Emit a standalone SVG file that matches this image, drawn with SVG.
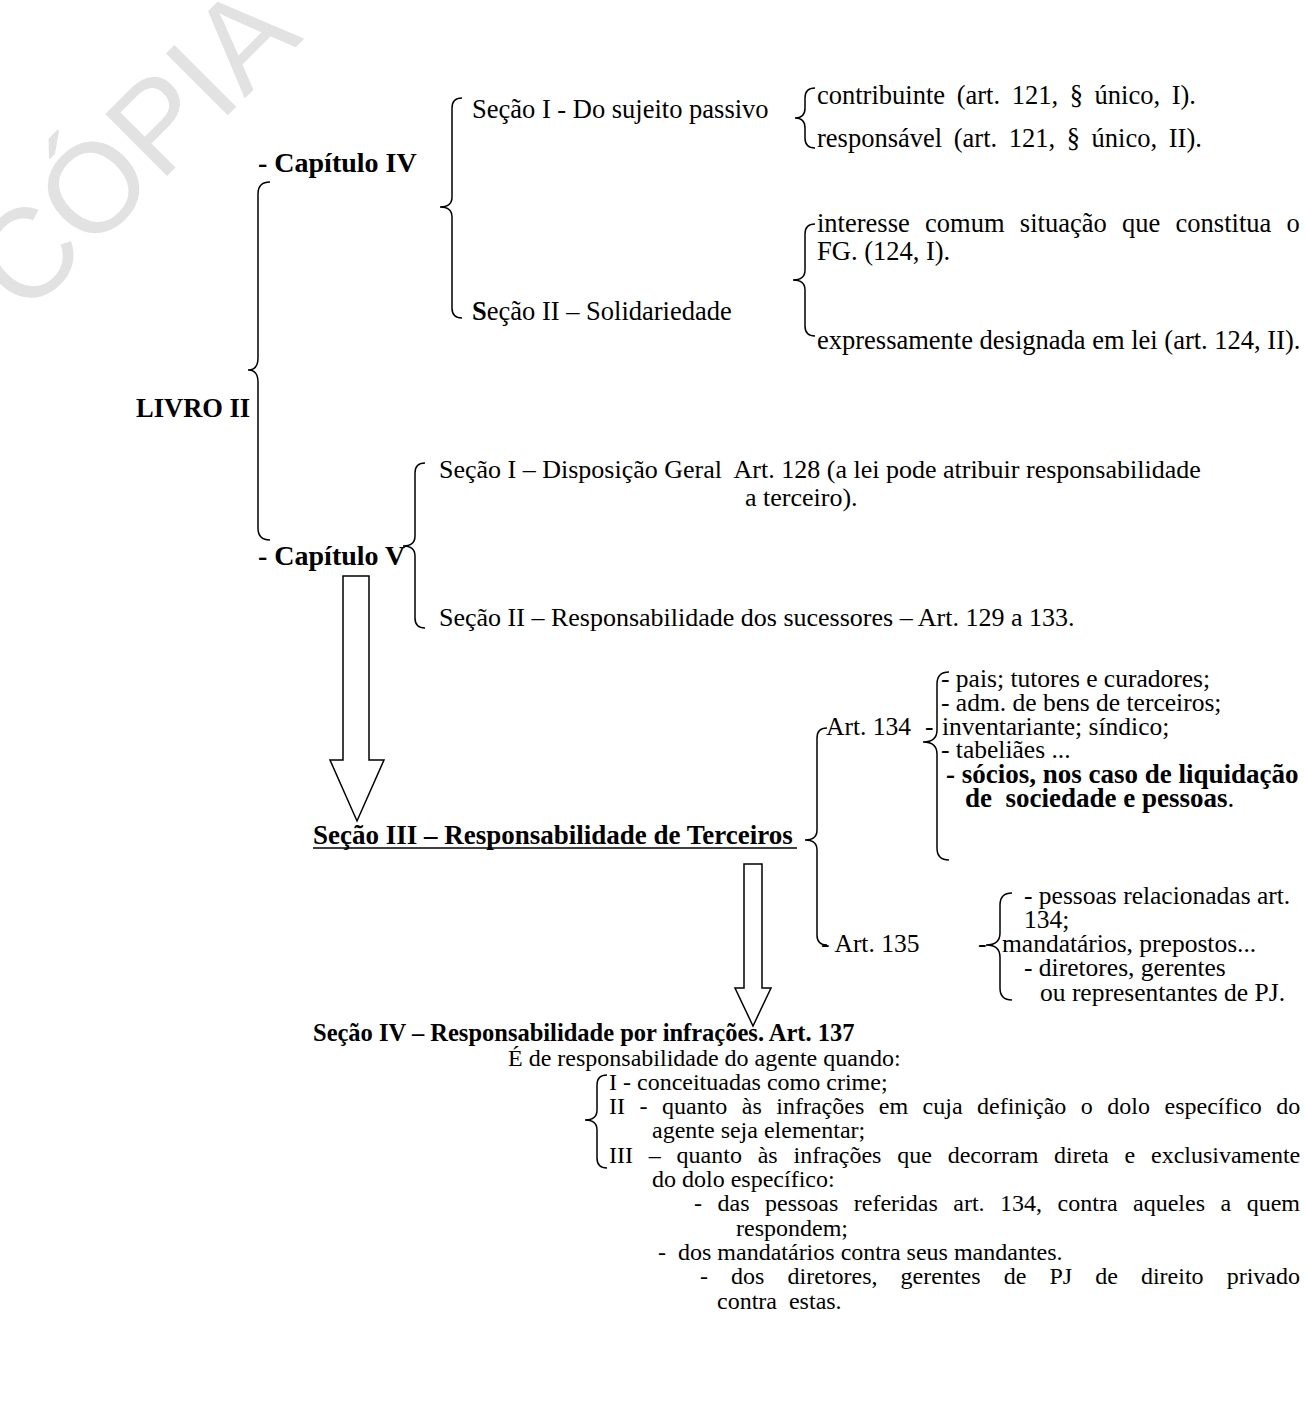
<svg xmlns="http://www.w3.org/2000/svg" width="1307" height="1424" viewBox="0 0 1307 1424">
<style>
.t{font-family:"Liberation Serif","Times New Roman",serif;font-size:26.5px;fill:#000}
.m{font-size:25.5px}
.s{font-size:24px}
.b{font-weight:bold}
.n{font-weight:normal}
.br{fill:none;stroke:#000;stroke-width:1.5}
.ar{fill:#fff;stroke:#000;stroke-width:1.5}
.wm{font-family:"Liberation Sans",Arial,sans-serif;font-size:127px;fill:#e2e2e2}
</style>
<rect width="1307" height="1424" fill="#fff"/>
<g id="watermark"><text class="wm" transform="translate(25,318) rotate(-45)">CÓPIA</text></g>

<g id="connectors">
<path class="br" d="M270,182 Q258,182 258,194 V358 Q258,370 248,370 Q258,370 258,382 V528 Q258,540 270,540"/>
<path class="br" d="M462,98 Q452,98 452,108 V197 Q452,207 440,207 Q452,207 452,217 V308 Q452,318 462,318"/>
<path class="br" d="M815,88 Q805,88 805,98 V108 Q805,118 795,118 Q805,118 805,128 V138 Q805,148 815,148"/>
<path class="br" d="M815,224 Q805,224 805,234 V270 Q805,280 793,280 Q805,280 805,290 V326 Q805,336 815,336"/>
<path class="br" d="M425,463 Q415,463 415,473 V536 Q415,546 403,546 Q415,546 415,556 V618 Q415,628 425,628"/>
<path class="br" d="M827,728 Q817,728 817,738 V830 Q817,840 805,840 Q817,840 817,850 V935 Q817,945 827,945"/>
<path class="br" d="M949,672 Q937,672 937,684 V730 Q937,742 923,742 Q937,742 937,754 V848 Q937,860 949,860"/>
<path class="br" d="M1012,893 Q1000,893 1000,905 V933 Q1000,945 986,945 Q1000,945 1000,957 V988 Q1000,1000 1012,1000"/>
<path class="br" d="M607,1075 Q597,1075 597,1085 V1110 Q597,1120 585,1120 Q597,1120 597,1130 V1158 Q597,1168 607,1168"/>
<polygon class="ar" points="343,576 369,576 369,760 384,760 357,821 330,760 343,760"/>
<polygon class="ar" points="744,864 762,864 762,988 771,988 753,1026 735,988 744,988"/>
<line x1="313" y1="848" x2="797" y2="848" stroke="#000" stroke-width="1.5"/>
</g>

<g id="livro"><text class="t b" x="136" y="417">LIVRO II</text></g>
<g id="cap4"><text class="t b" x="258" y="172" style="font-size:28px">- Capítulo IV</text></g>
<g id="cap5"><text class="t b" x="258" y="565" style="font-size:28px">- Capítulo V</text></g>
<g id="s1"><text class="t" x="472" y="118">Seção I - Do sujeito passivo</text></g>
<g id="s2"><text class="t" x="472" y="320"><tspan class="b">S</tspan>eção II – Solidariedade</text></g>
<g id="contrib"><text class="t" x="817" y="104" word-spacing="5">contribuinte (art. 121, § único, I).</text></g>
<g id="resp"><text class="t" x="817" y="147" word-spacing="5">responsável (art. 121, § único, II).</text></g>
<g id="interesse">
<text class="t" x="817" y="232" word-spacing="8.7">interesse comum situação que constitua o</text>
<text class="t" x="817" y="260">FG. (124, I).</text>
</g>
<g id="expressa"><text class="t" x="817" y="349">expressamente designada em lei (art. 124, II).</text></g>
<g id="s1cap5">
<text class="t" x="439" y="478" style="font-size:26px" xml:space="preserve">Seção I – Disposição Geral  Art. 128 (a lei pode atribuir responsabilidade</text>
<text class="t" x="745" y="506" style="font-size:26px">a terceiro).</text>
</g>
<g id="s2cap5"><text class="t" x="439" y="626" style="font-size:26px">Seção II – Responsabilidade dos sucessores – Art. 129 a 133.</text></g>
<g id="s3"><text class="t b" x="313" y="844" style="font-size:27px">Seção III – Responsabilidade de Terceiros</text></g>
<g id="art134"><text class="t m" x="826" y="735">Art. 134</text></g>
<g id="art134list">
<text class="t m" x="941" y="687">- pais; tutores e curadores;</text>
<text class="t m" x="941" y="711">- adm. de bens de terceiros;</text>
<text class="t m" x="925" y="735">-</text>
<text class="t m" x="942" y="735">inventariante; síndico;</text>
<text class="t m" x="941" y="758">- tabeliães ...</text>
<text class="t b" x="946" y="783" style="font-size:27px">- sócios, nos caso de liquidação</text>
<text class="t b" x="965" y="807" style="font-size:27px" xml:space="preserve">de  sociedade e pessoas<tspan class="n">.</tspan></text>
</g>
<g id="art135"><text class="t m" x="821" y="952">- Art. 135</text></g>
<g id="art135list">
<text class="t m" x="1024" y="904">- pessoas relacionadas art.</text>
<text class="t m" x="1024" y="928">134;</text>
<text class="t m" x="978" y="952">-</text>
<text class="t m" x="1002" y="952">mandatários, prepostos...</text>
<text class="t m" x="1024" y="976">- diretores, gerentes</text>
<text class="t m" x="1040" y="1001">ou representantes de PJ.</text>
</g>
<g id="s4"><text class="t b" x="313" y="1041" style="font-size:24.5px">Seção IV – Responsabilidade por infrações. Art. 137</text></g>
<g id="s4body">
<text class="t s" x="508" y="1066">É de responsabilidade do agente quando:</text>
<text class="t s" x="609" y="1090">I - conceituadas como crime;</text>
<text class="t s" x="609" y="1114" word-spacing="8.5">II - quanto às infrações em cuja definição o dolo específico do</text>
<text class="t s" x="652" y="1138">agente seja elementar;</text>
<text class="t s" x="609" y="1163" word-spacing="9.8">III – quanto às infrações que decorram direta e exclusivamente</text>
<text class="t s" x="652" y="1187">do dolo específico:</text>
<text class="t s" x="694" y="1211" word-spacing="9.5">- das pessoas referidas art. 134, contra aqueles a quem</text>
<text class="t s" x="736" y="1236">respondem;</text>
<text class="t s" x="658" y="1260" xml:space="preserve">-  dos mandatários contra seus mandantes.</text>
<text class="t s" x="700" y="1284" word-spacing="17.1">- dos diretores, gerentes de PJ de direito privado</text>
<text class="t s" x="717" y="1309" xml:space="preserve">contra  estas.</text>
</g>
</svg>
